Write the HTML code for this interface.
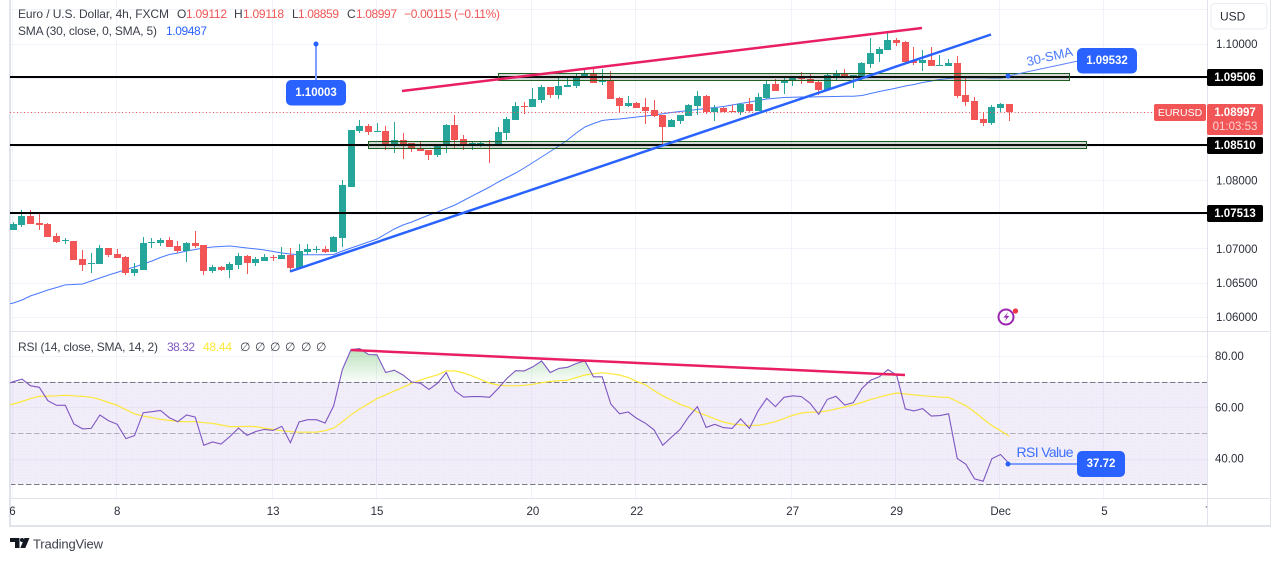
<!DOCTYPE html>
<html lang="en">
<head>
<meta charset="utf-8">
<title>EURUSD 4h chart</title>
<style>
  html, body { margin: 0; padding: 0; background: #ffffff; width: 1275px; height: 561px; overflow: hidden; }
  svg { display: block; font-family: "Liberation Sans", "DejaVu Sans", sans-serif; }
  .ax { font-size: 11.5px; fill: #2a2e39; dominant-baseline: central; }
  .lg { font-size: 12px; fill: #3b3f4a; dominant-baseline: central; }
  .rd { font-size: 12px; fill: #f15555; dominant-baseline: central; }
  .pl { font-size: 11.5px; fill: #ffffff; font-weight: bold; dominant-baseline: central; text-anchor: middle; }
</style>
</head>
<body>
<svg id="chart" xmlns="http://www.w3.org/2000/svg" width="1275" height="561" viewBox="0 0 1275 561">
  <defs>
    <clipPath id="clip-price"><rect x="10" y="0" width="1197" height="331"></rect></clipPath>
    <clipPath id="clip-rsi"><rect x="10" y="332" width="1197" height="166"></rect></clipPath>
    <clipPath id="clip-over"><rect x="10" y="332" width="1197" height="49.7"></rect></clipPath>
    <clipPath id="clip-time"><rect x="10" y="499" width="1197" height="26"></rect></clipPath>
    <linearGradient id="over-grad" gradientUnits="userSpaceOnUse" x1="0" y1="348" x2="0" y2="382">
      <stop offset="0" stop-color="#4caf50" stop-opacity="0.38"></stop>
      <stop offset="1" stop-color="#4caf50" stop-opacity="0.03"></stop>
    </linearGradient>
    <pattern id="band-dots" width="3" height="3" patternUnits="userSpaceOnUse">
      <rect width="3" height="3" fill="#f1edf9"></rect>
      <rect x="1" y="1" width="1" height="1" fill="#ebe5f6"></rect>
    </pattern>
  </defs>

  <g id="grid"></g>
  <rect id="rsi-band" fill="url(#band-dots)"></rect>
  <g id="grid-rsi"></g>
  <g id="rsi-guides"></g>

  <g id="frame" fill="#e0e3eb">
    <rect x="9" y="0" width="2" height="527"></rect>
    <rect x="9" y="331" width="1262" height="1"></rect>
    <rect x="9" y="498" width="1262" height="1"></rect>
    <rect x="9" y="525" width="1262" height="2"></rect>
    <rect x="1207" y="0" width="1" height="527"></rect>
    <rect x="1270" y="0" width="1" height="527"></rect>
  </g>

  <g clip-path="url(#clip-price)">
    <path id="sma-line" fill="none" stroke="#2962ff" stroke-width="1" stroke-opacity="0.85"></path>
    <g id="candles"></g>
    <line id="last-price-line" stroke="#f15555" stroke-width="1" stroke-dasharray="1 2.5"></line>
    <g id="level-lines"></g>
    <rect x="498.5" y="73.5" width="571" height="7" fill="#3c503c" fill-opacity="0.22" stroke="#1b5e20" stroke-width="1"></rect>
    <rect x="368.5" y="141.5" width="718" height="7" fill="#3c503c" fill-opacity="0.22" stroke="#1b5e20" stroke-width="1"></rect>
    <line x1="402" y1="91" x2="922" y2="28" stroke="#e91e63" stroke-width="2.5"></line>
    <line x1="290" y1="271.5" x2="991" y2="34.5" stroke="#2962ff" stroke-width="2.5"></line>
  </g>

  <g>
    <line x1="316" y1="44" x2="316" y2="81" stroke="#7f9cff" stroke-width="2"></line>
    <circle cx="316" cy="44" r="2.5" fill="#2962ff"></circle>
    <rect x="286" y="80" width="60" height="25.5" rx="5" fill="#2962ff"></rect>
    <text class="pl" x="316" y="93">1.10003</text>
  </g>
  <g>
    <line x1="1008" y1="76" x2="1078" y2="61" stroke="#5b82ff" stroke-width="1"></line>
    <circle cx="1008" cy="76" r="2.5" fill="#2962ff"></circle>
    <rect x="1077" y="48" width="60" height="25.5" rx="5" fill="#2962ff"></rect>
    <text class="pl" x="1107" y="61">1.09532</text>
    <text x="1049.5" y="61" text-anchor="middle" font-size="13" fill="#2962ff" fill-opacity="0.85" transform="rotate(-13 1049.5 56)">30-SMA</text>
  </g>

  <g>
    <circle cx="1006" cy="317" r="7.5" fill="none" stroke="#9c27b0" stroke-width="2"></circle>
    <path d="M1008 312l-4.5 5.6h3l-2 4 4.8-5.7h-3z" fill="#9c27b0"></path>
    <circle cx="1015.5" cy="311" r="2.6" fill="#f23645"></circle>
  </g>

  <g clip-path="url(#clip-rsi)">
    <path id="rsi-area" fill="url(#over-grad)" clip-path="url(#clip-over)"></path>
    <path id="rsi-ma-line" fill="none" stroke="#fde83a" stroke-width="1.2"></path>
    <path id="rsi-line" fill="none" stroke="#7e57c2" stroke-width="1.1"></path>
    <line x1="351" y1="350" x2="905" y2="375" stroke="#e91e63" stroke-width="2.5"></line>
  </g>

  <g>
    <line x1="1008" y1="464" x2="1078" y2="464" stroke="#7f9cff" stroke-width="2"></line>
    <circle cx="1008" cy="464" r="2.5" fill="#2962ff"></circle>
    <rect x="1077" y="451" width="48" height="26" rx="5" fill="#2962ff"></rect>
    <text class="pl" x="1101" y="464">37.72</text>
    <text x="1016.5" y="457" font-size="14" fill="#2962ff" fill-opacity="0.9" textLength="57">RSI Value</text>
  </g>

  <g id="price-axis"></g>
  <g id="rsi-axis"></g>
  <g id="time-axis" clip-path="url(#clip-time)"></g>
  <g id="level-labels"></g>

  <g>
    <rect x="1207" y="104" width="56" height="31" rx="2" fill="#f15555"></rect>
    <text class="pl" x="1235" y="113">1.08997</text>
    <text x="1235" y="127" font-size="11.5" fill="#fcd5d5" text-anchor="middle" dominant-baseline="central">01:03:53</text>
  </g>
  <g>
    <rect x="1154" y="104" width="52" height="17" rx="2" fill="#f15555"></rect>
    <text x="1180" y="113" font-size="10.5" fill="#ffffff" text-anchor="middle" dominant-baseline="central">EURUSD</text>
  </g>
  <g>
    <rect x="1211" y="3.5" width="56" height="25.5" rx="4" fill="#ffffff" stroke="#e8ebf2" stroke-width="1"></rect>
    <text x="1220" y="16.5" font-size="12" fill="#2a2e39" dominant-baseline="central">USD</text>
  </g>

  <g>
    <text class="lg" x="18" y="14" textLength="151">Euro / U.S. Dollar, 4h, FXCM</text>
    <text class="lg" x="177" y="14">O</text><text class="rd" x="186" y="14" textLength="41">1.09112</text>
    <text class="lg" x="234" y="14">H</text><text class="rd" x="243" y="14" textLength="41">1.09118</text>
    <text class="lg" x="292" y="14">L</text><text class="rd" x="298" y="14" textLength="41">1.08859</text>
    <text class="lg" x="347" y="14">C</text><text class="rd" x="356" y="14" textLength="41">1.08997</text>
    <text class="rd" x="404" y="14" textLength="96">−0.00115 (−0.11%)</text>
    <text class="lg" x="18" y="31" textLength="139">SMA (30, close, 0, SMA, 5)</text>
    <text x="166" y="31" font-size="12" fill="#2962ff" dominant-baseline="central" textLength="41">1.09487</text>
  </g>
  <g>
    <text class="lg" x="18" y="347" textLength="140">RSI (14, close, SMA, 14, 2)</text>
    <text x="167" y="347" font-size="12" fill="#7e57c2" dominant-baseline="central" textLength="28">38.32</text>
    <text x="203" y="347" font-size="12" fill="#fde83a" dominant-baseline="central" textLength="29">48.44</text>
    <text class="lg" x="240" y="347">∅</text>
    <text class="lg" x="255" y="347">∅</text>
    <text class="lg" x="270" y="347">∅</text>
    <text class="lg" x="285" y="347">∅</text>
    <text class="lg" x="301" y="347">∅</text>
    <text class="lg" x="316" y="347">∅</text>
  </g>

  <g>
    <path d="M10 538h9.5v10h-4.5v-6h-5z" fill="#131722"></path>
    <circle cx="22" cy="540" r="2" fill="#131722"></circle>
    <path d="M24.5 538h5l-4.2 10h-5z" fill="#131722"></path>
    <text x="33" y="544" font-size="13" fill="#3b3f4a" dominant-baseline="central" textLength="70">TradingView</text>
  </g>
</svg>

<script>
// --- candle data (EURUSD 4h) ---
const opens = [1.07270,1.07343,1.07475,1.07372,1.07358,1.07182,1.07109,1.07109,1.06845,1.06772,1.06772,1.07006,1.06918,1.06875,1.06640,1.06684,1.07079,1.07079,1.07123,1.07035,1.06962,1.07079,1.07050,1.06670,1.06728,1.06684,1.06757,1.06889,1.06787,1.06816,1.06875,1.06845,1.06904,1.06713,1.06948,1.06977,1.06992,1.06948,1.07153,1.07899,1.08719,1.08792,1.08705,1.08719,1.08500,1.08587,1.08544,1.08470,1.08441,1.08368,1.08500,1.08807,1.08602,1.08529,1.08529,1.08529,1.08514,1.08690,1.08880,1.09085,1.09071,1.09173,1.09363,1.09246,1.09363,1.09378,1.09495,1.09553,1.09437,1.09451,1.09202,1.09085,1.09129,1.09071,1.09027,1.08953,1.08778,1.08866,1.08939,1.09085,1.09232,1.08997,1.09056,1.09012,1.08997,1.09114,1.09012,1.09202,1.09407,1.09422,1.09451,1.09495,1.09480,1.09437,1.09319,1.09524,1.09568,1.09510,1.09524,1.09700,1.09846,1.09905,1.10051,1.10022,1.09744,1.09715,1.09759,1.09671,1.09671,1.09715,1.09246,1.09158,1.08895,1.08836,1.09056,1.09112];
const highs = [1.07387,1.07563,1.07563,1.07519,1.07372,1.07226,1.07153,1.07109,1.06977,1.06933,1.07050,1.07006,1.06992,1.06889,1.06787,1.07167,1.07153,1.07153,1.07167,1.07109,1.07094,1.07255,1.07050,1.06757,1.06743,1.06801,1.06933,1.06904,1.06875,1.06918,1.06904,1.07021,1.07006,1.07065,1.07065,1.07035,1.07035,1.07182,1.08002,1.08734,1.08880,1.08822,1.08836,1.08792,1.08851,1.08690,1.08544,1.08558,1.08441,1.08529,1.08822,1.08953,1.08661,1.08573,1.08573,1.08587,1.08778,1.08924,1.09144,1.09144,1.09349,1.09393,1.09363,1.09510,1.09510,1.09553,1.09627,1.09627,1.09627,1.09597,1.09217,1.09232,1.09144,1.09202,1.09173,1.08953,1.08895,1.08953,1.09114,1.09305,1.09246,1.09100,1.09071,1.09100,1.09129,1.09202,1.09276,1.09451,1.09480,1.09510,1.09510,1.09583,1.09568,1.09451,1.09553,1.09612,1.09627,1.09539,1.09729,1.10081,1.09949,1.10169,1.10081,1.10037,1.09949,1.09905,1.09949,1.09832,1.09773,1.09817,1.09495,1.09217,1.08997,1.09100,1.09129,1.09118];
const lows = [1.07270,1.07314,1.07358,1.07270,1.07167,1.07079,1.07065,1.06831,1.06670,1.06640,1.06772,1.06875,1.06860,1.06611,1.06596,1.06684,1.07006,1.07035,1.07021,1.06933,1.06801,1.07006,1.06611,1.06640,1.06670,1.06567,1.06699,1.06626,1.06743,1.06816,1.06816,1.06845,1.06655,1.06699,1.06904,1.06933,1.06933,1.06948,1.07021,1.07899,1.08690,1.08661,1.08705,1.08441,1.08397,1.08309,1.08412,1.08426,1.08295,1.08339,1.08397,1.08470,1.08441,1.08441,1.08485,1.08251,1.08514,1.08587,1.08880,1.08968,1.09071,1.09129,1.09202,1.09188,1.09363,1.09349,1.09495,1.09422,1.09393,1.09188,1.08983,1.09071,1.09056,1.08822,1.08924,1.08514,1.08778,1.08822,1.08939,1.08953,1.08968,1.08866,1.08997,1.08997,1.08953,1.08997,1.09012,1.09188,1.09305,1.09261,1.09378,1.09407,1.09422,1.09246,1.09305,1.09466,1.09495,1.09349,1.09466,1.09641,1.09729,1.09905,1.09964,1.09729,1.09685,1.09597,1.09671,1.09671,1.09671,1.09202,1.09085,1.08880,1.08792,1.08807,1.08997,1.08859];
const closes = [1.07358,1.07475,1.07358,1.07343,1.07167,1.07094,1.07123,1.06831,1.06757,1.06787,1.07006,1.06904,1.06860,1.06640,1.06699,1.07079,1.07094,1.07123,1.07021,1.06962,1.07079,1.07035,1.06670,1.06728,1.06684,1.06772,1.06889,1.06787,1.06845,1.06875,1.06860,1.06904,1.06713,1.06962,1.06992,1.06992,1.06948,1.07167,1.07929,1.08734,1.08792,1.08705,1.08719,1.08500,1.08587,1.08529,1.08456,1.08426,1.08368,1.08514,1.08807,1.08587,1.08500,1.08544,1.08544,1.08514,1.08705,1.08895,1.09085,1.09071,1.09188,1.09363,1.09246,1.09378,1.09393,1.09510,1.09553,1.09422,1.09451,1.09188,1.09085,1.09129,1.09056,1.09012,1.08939,1.08778,1.08880,1.08953,1.09100,1.09232,1.08997,1.09056,1.08997,1.08997,1.09114,1.09012,1.09217,1.09407,1.09305,1.09466,1.09495,1.09480,1.09422,1.09319,1.09539,1.09568,1.09495,1.09539,1.09715,1.09861,1.09920,1.10051,1.10007,1.09729,1.09715,1.09759,1.09671,1.09685,1.09715,1.09232,1.09144,1.08880,1.08836,1.09071,1.09114,1.08997];
// indicator series: first value belongs to the bar just left of the visible range
const smaValues = [1.06172,1.06201,1.06245,1.06304,1.06347,1.06391,1.06428,1.06465,1.06472,1.06479,1.06523,1.06567,1.06611,1.06648,1.06691,1.06728,1.06772,1.06816,1.06867,1.06911,1.06933,1.06962,1.06984,1.07006,1.07021,1.07028,1.07035,1.07021,1.07006,1.06992,1.06977,1.06955,1.06933,1.06918,1.06908,1.06908,1.06908,1.06908,1.06911,1.06962,1.07006,1.07050,1.07094,1.07138,1.07211,1.07284,1.07343,1.07387,1.07438,1.07489,1.07533,1.07584,1.07636,1.07702,1.07768,1.07833,1.07899,1.07972,1.08038,1.08104,1.08177,1.08258,1.08338,1.08419,1.08500,1.08587,1.08690,1.08778,1.08829,1.08873,1.08887,1.08895,1.08909,1.08924,1.08939,1.08953,1.08972,1.08990,1.09005,1.09019,1.09034,1.09049,1.09063,1.09078,1.09100,1.09122,1.09144,1.09166,1.09188,1.09199,1.09210,1.09214,1.09217,1.09217,1.09220,1.09222,1.09224,1.09227,1.09229,1.09239,1.09268,1.09297,1.09322,1.09349,1.09378,1.09400,1.09429,1.09451,1.09473,1.09488,1.09498,1.09498,1.09498,1.09498,1.09495,1.09495,1.09510];
const rsiValues = [68.7,70.0,71.0,68.4,67.8,62.6,60.8,60.8,53.5,51.6,51.8,57.0,54.8,53.4,47.8,49.0,57.9,58.3,58.8,56.0,54.4,57.0,56.2,45.2,46.5,45.7,48.6,51.9,49.1,50.6,51.4,51.0,52.6,46.2,54.3,55.2,55.2,53.9,60.6,74.8,82.5,82.9,80.6,80.5,73.6,74.5,72.6,69.9,69.4,67.0,69.4,73.6,66.4,64.0,64.2,64.2,63.9,67.4,71.3,74.3,74.2,75.8,78.1,73.6,75.2,75.6,77.1,78.1,71.9,71.9,61.3,57.5,58.2,55.7,53.8,51.2,45.2,48.4,51.4,56.4,60.3,52.2,53.4,52.1,51.8,55.5,51.8,58.6,63.5,60.3,63.9,64.5,64.2,61.6,57.3,63.1,64.3,60.9,61.8,67.4,70.6,71.9,74.7,72.6,59.4,58.6,59.5,56.6,56.8,57.5,40.1,37.8,32.1,31.2,40.0,41.6,38.1];
const rsiMaValues = [60.5,61.3,62.3,63.4,64.3,64.4,64.5,64.7,64.5,64.3,63.9,63.1,61.9,60.8,59.1,57.5,56.6,56.0,55.3,54.9,54.5,54.4,54.4,54.0,53.8,53.1,52.5,52.5,52.6,52.5,51.9,51.4,50.9,50.5,50.3,50.3,50.3,50.9,51.9,54.4,57.1,59.4,61.4,63.4,64.9,66.4,67.8,69.4,70.6,71.7,72.7,74.2,74.2,73.4,72.2,70.8,69.4,68.7,68.4,68.4,68.6,69.0,69.6,70.1,70.4,70.6,71.6,72.6,73.1,73.5,73.1,72.6,71.6,70.1,68.8,66.5,64.5,62.9,61.2,60.0,58.1,56.9,55.5,54.3,53.5,53.2,52.9,53.0,53.6,54.4,55.6,56.9,57.8,58.1,58.2,58.6,59.4,60.1,60.9,61.9,63.1,64.0,64.9,65.6,65.2,64.9,64.5,64.3,64.0,63.9,62.3,60.6,58.2,55.5,52.9,50.9,48.8];
// axis labels
const priceTicks = [1.10, 1.08, 1.07, 1.065, 1.06];
const priceGrid = [1.105, 1.10, 1.095, 1.09, 1.085, 1.08, 1.075, 1.07, 1.065, 1.06];
const levelValues = [1.09506, 1.0851, 1.07513];
const levelLabels = ["1.09506", "1.08510", "1.07513"];
const rsiTicks = [80, 60, 40];
const rsiGuides = [70, 50, 30];
const dateLabels = ["6", "8", "13", "15", "20", "22", "27", "29", "Dec", "5", "7"];
const dateBars = [0, 12, 30, 42, 60, 72, 90, 102, 114, 126, 138];

const UP = "#26a69a", DOWN = "#f15555";
const xAt = i => 13.3 + 8.66 * i;
const yPrice = p => 43.5 + (1.10 - p) * 6830;
const yRsi = v => 381.7 + (70 - v) * 2.565;
const NS = "http://www.w3.org/2000/svg";
const $ = id => document.getElementById(id);
function mk(parent, tag, attrs, text) {
  const el = document.createElementNS(NS, tag);
  for (const k in attrs) el.setAttribute(k, attrs[k]);
  if (text !== undefined) el.textContent = text;
  parent.appendChild(el);
  return el;
}
function linePath(values, yFn) {
  return values.map((v, k) => (k ? "L" : "M") + xAt(k - 1).toFixed(1) + " " + yFn(v).toFixed(1)).join("");
}

// grid
priceGrid.forEach(p => {
  const el = mk($("grid"), "rect", { x: 10, y: Math.round(yPrice(p)), width: 1197, height: 1, fill: "#f0f3fa" });
  
  
});
dateBars.forEach(b => {
  const x = Math.floor(xAt(b));
  if (x > 1206) return;
  const el = mk($("grid"), "rect", { x: Math.max(x - 1, 11), y: 0, width: 1, height: 498, fill: "#f0f3fa" });
  
  
});
rsiTicks.forEach(v => {
  const el = mk($("grid"), "rect", { x: 10, y: Math.round(yRsi(v)), width: 1197, height: 1, fill: "#f0f3fa" });
  
  
});

// RSI band and guide lines
const band = $("rsi-band");
band.setAttribute("x", 10);
band.setAttribute("y", yRsi(rsiGuides[0]));
band.setAttribute("width", 1197);
band.setAttribute("height", yRsi(rsiGuides[2]) - yRsi(rsiGuides[0]));
rsiTicks.forEach(v => {
  const el = mk($("grid-rsi"), "rect", { x: 10, y: Math.round(yRsi(v)), width: 1197, height: 1, fill: "#7e57c2", "fill-opacity": v === 80 ? 0 : 0.07 });
  
  
});
dateBars.forEach(b => {
  const x = Math.floor(xAt(b));
  if (x > 1206) return;
  const el = mk($("grid-rsi"), "rect", { x: Math.max(x - 1, 11), y: yRsi(rsiGuides[0]), width: 1, height: yRsi(rsiGuides[2]) - yRsi(rsiGuides[0]), fill: "#7e57c2", "fill-opacity": 0.07 });
  
  
});
rsiGuides.forEach(v => {
  const y = Math.round(yRsi(v)) + 0.5;
  const el = mk($("rsi-guides"), "line", { x1: 10, x2: 1207, y1: y, y2: y, stroke: "#787b86", "stroke-width": 1, "stroke-dasharray": "5.5 2.5", "stroke-opacity": v === 50 ? 0.55 : 1 });
  
  
});

// candles
closes.forEach((c, i) => {
  const o = opens[i], up = c >= o, col = up ? UP : DOWN;
  const cx = Math.floor(xAt(i));
  const top = Math.round(yPrice(Math.max(o, c)));
  const bot = Math.round(yPrice(Math.min(o, c)));
  const hi = Math.round(yPrice(highs[i]));
  const lo = Math.round(yPrice(lows[i]));
  const g = mk($("candles"), "g", { fill: col });
  
  
  mk(g, "rect", { x: cx, y: hi, width: 1, height: Math.max(1, lo - hi) });
  mk(g, "rect", { x: cx - 3, y: top, width: 7, height: Math.max(1, bot - top) });
});

// indicator lines
$("sma-line").setAttribute("d", linePath(smaValues, yPrice));
$("rsi-line").setAttribute("d", linePath(rsiValues, yRsi));
$("rsi-ma-line").setAttribute("d", linePath(rsiMaValues, yRsi));
const base = yRsi(70).toFixed(1);
$("rsi-area").setAttribute("d", linePath(rsiValues, yRsi) + "L" + xAt(rsiValues.length - 2).toFixed(1) + " " + base + "L" + xAt(-1).toFixed(1) + " " + base + "Z");

// last price line
const lastY = Math.round(yPrice(closes[closes.length - 1])) + 0.5;
const lp = $("last-price-line");
lp.setAttribute("x1", 10); lp.setAttribute("x2", 1154);
lp.setAttribute("y1", lastY); lp.setAttribute("y2", lastY);

// horizontal levels and their labels
levelValues.forEach((p, k) => {
  const y = Math.round(yPrice(p));
  const ln = mk($("level-lines"), "rect", { x: 10, y: y - 1, width: 1197, height: 2, fill: "#000000" });
  
  
  const bx = mk($("level-labels"), "rect", { x: 1207, y: y - 8, width: 56, height: 17, rx: 2, fill: "#000000" });
  
  
  const tx = mk($("level-labels"), "text", { x: 1235, y: y + 1, "class": "pl" }, levelLabels[k]);
  
  
});

// axes
priceTicks.forEach(p => {
  const el = mk($("price-axis"), "text", { x: 1216, y: yPrice(p) + 1.5, "class": "ax" }, p.toFixed(5));
  
  
});
rsiTicks.forEach(v => {
  const el = mk($("rsi-axis"), "text", { x: 1215, y: yRsi(v) + 1, "class": "ax" }, v.toFixed(2));
  
  
});
dateLabels.forEach((t, k) => {
  const el = mk($("time-axis"), "text", { x: k === 0 ? 12.5 : xAt(dateBars[k]), y: 512, "class": "ax", "text-anchor": "middle" }, t);
  
  
});
</script>
</body>
</html>
